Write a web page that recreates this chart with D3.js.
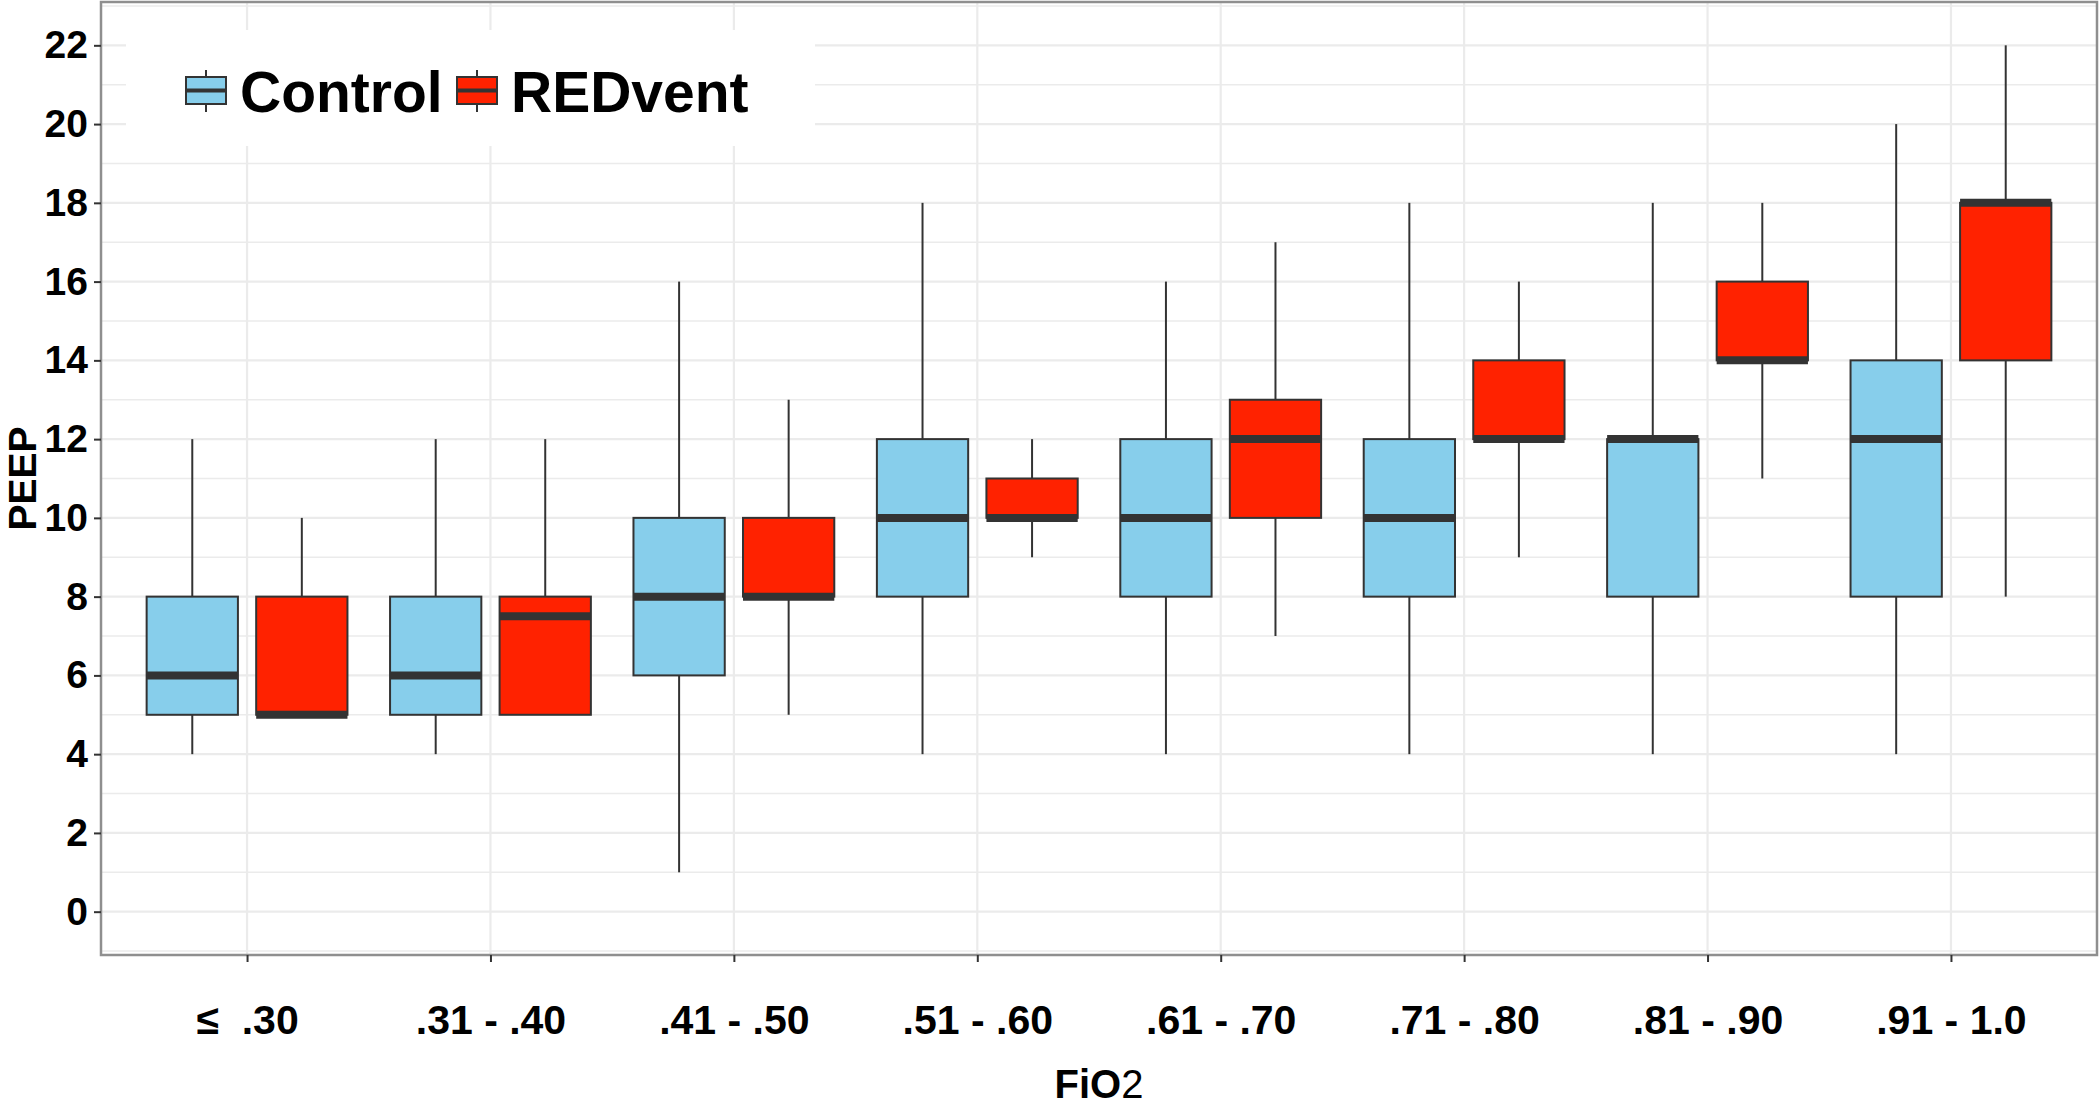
<!DOCTYPE html>
<html>
<head>
<meta charset="utf-8">
<script src="https://cdn.jsdelivr.net/npm/d3@7"></script>
<style>
  html, body { margin: 0; padding: 0; background: #fff; }
  svg { display: block; }
  text { font-family: "Liberation Sans", Arial, sans-serif; }
</style>
</head>
<body>
<svg id="chart" width="2100" height="1108"></svg>
<script>
// ---- data ----
const categories = ["\u2264  .30", ".31 - .40", ".41 - .50", ".51 - .60", ".61 - .70", ".71 - .80", ".81 - .90", ".91 - 1.0"];
const groups = ["Control", "REDvent"];
const groupColors = ["#87CEEB", "#FF2200"];
const yTicks = [0, 2, 4, 6, 8, 10, 12, 14, 16, 18, 20, 22];

const controlLow  = [4, 4, 1, 4, 4, 4, 4, 4];
const controlQ1   = [5, 5, 6, 8, 8, 8, 8, 8];
const controlMed  = [6, 6, 8, 10, 10, 10, 12, 12];
const controlQ3   = [8, 8, 10, 12, 12, 12, 12, 14];
const controlHigh = [12, 12, 16, 18, 16, 18, 18, 20];

const redLow  = [5, 5, 5, 9, 7, 9, 11, 8];
const redQ1   = [5, 5, 8, 10, 10, 12, 14, 14];
const redMed  = [5, 7.5, 8, 10, 12, 12, 14, 18];
const redQ3   = [8, 8, 10, 11, 13, 14, 16, 18];
const redHigh = [10, 12, 13, 12, 17, 16, 18, 22];

// ---- build ----
const series = [
  {name: groups[0], color: groupColors[0], low: controlLow, q1: controlQ1, med: controlMed, q3: controlQ3, high: controlHigh, off: -1},
  {name: groups[1], color: groupColors[1], low: redLow, q1: redQ1, med: redMed, q3: redQ3, high: redHigh, off: 1}
];

const svg = d3.select("#chart");
const P = {left: 101, right: 2097, top: 2, bottom: 955};

const x = d3.scaleLinear().domain([0.4, categories.length + 0.6]).range([P.left, P.right]);
const y = d3.scaleLinear().domain([-1.1, 23.1]).range([P.bottom, P.top]);

const dodge = 0.225, boxW = 0.375;
const unit = x(1) - x(0);

// background
svg.append("rect").attr("x", P.left).attr("y", P.top).attr("width", P.right - P.left).attr("height", P.bottom - P.top).attr("fill", "#fff");

// grid
const grid = svg.append("g");
const minor = d3.range(-1, 24, 2);
grid.selectAll(".minor").data(minor).join("line")
  .attr("x1", P.left).attr("x2", P.right)
  .attr("y1", d => y(d)).attr("y2", d => y(d))
  .attr("stroke", "#EBEBEB").attr("stroke-width", 1.6);
grid.selectAll(".major").data(yTicks).join("line")
  .attr("x1", P.left).attr("x2", P.right)
  .attr("y1", d => y(d)).attr("y2", d => y(d))
  .attr("stroke", "#EBEBEB").attr("stroke-width", 2.2);
grid.selectAll(".vmajor").data(categories).join("line")
  .attr("x1", (d, i) => x(i + 1)).attr("x2", (d, i) => x(i + 1))
  .attr("y1", P.top).attr("y2", P.bottom)
  .attr("stroke", "#EBEBEB").attr("stroke-width", 2.2);

// boxes
const stroke = "#333333";
series.forEach(s => {
  const g = svg.append("g");
  const idx = d3.range(categories.length);
  const cx = i => x(i + 1 + s.off * dodge);
  g.selectAll(".wu").data(idx).join("line")
    .attr("x1", cx).attr("x2", cx)
    .attr("y1", i => y(s.q3[i])).attr("y2", i => y(s.high[i]))
    .attr("stroke", stroke).attr("stroke-width", 2);
  g.selectAll(".wl").data(idx).join("line")
    .attr("x1", cx).attr("x2", cx)
    .attr("y1", i => y(s.q1[i])).attr("y2", i => y(s.low[i]))
    .attr("stroke", stroke).attr("stroke-width", 2);
  g.selectAll(".box").data(idx).join("rect")
    .attr("x", i => cx(i) - boxW / 2 * unit)
    .attr("width", boxW * unit)
    .attr("y", i => y(s.q3[i]))
    .attr("height", i => Math.max(0, y(s.q1[i]) - y(s.q3[i])))
    .attr("fill", s.color).attr("stroke", stroke).attr("stroke-width", 2);
  g.selectAll(".med").data(idx).join("line")
    .attr("x1", i => cx(i) - boxW / 2 * unit).attr("x2", i => cx(i) + boxW / 2 * unit)
    .attr("y1", i => y(s.med[i])).attr("y2", i => y(s.med[i]))
    .attr("stroke", stroke).attr("stroke-width", 8);
});

// panel border
svg.append("rect").attr("x", P.left).attr("y", P.top).attr("width", P.right - P.left).attr("height", P.bottom - P.top)
  .attr("fill", "none").attr("stroke", "#8f8f8f").attr("stroke-width", 2.5);

// axes
const yAxis = svg.append("g").attr("transform", `translate(${P.left},0)`)
  .call(d3.axisLeft(y).tickValues(yTicks).tickSize(7).tickPadding(6));
yAxis.select(".domain").remove();
yAxis.selectAll(".tick line").attr("stroke", "#333").attr("stroke-width", 2);
yAxis.selectAll(".tick text").attr("fill", "#000").attr("font-size", 39).attr("font-weight", "bold")
  .attr("font-family", "Liberation Sans, Arial, sans-serif");

const xAxis = svg.append("g").attr("transform", `translate(0,${P.bottom})`)
  .call(d3.axisBottom(x).tickValues(d3.range(1, categories.length + 1)).tickFormat(d => categories[d - 1]).tickSize(7).tickPadding(43));
xAxis.select(".domain").remove();
xAxis.selectAll(".tick line").attr("stroke", "#333").attr("stroke-width", 2);
xAxis.selectAll(".tick text").attr("fill", "#000").attr("font-size", 41).attr("font-weight", "bold")
  .attr("font-family", "Liberation Sans, Arial, sans-serif").style("white-space", "pre");

// axis titles
const xt = svg.append("text").attr("x", (P.left + P.right) / 2).attr("y", 1098)
  .attr("text-anchor", "middle").attr("font-size", 40).attr("fill", "#000");
xt.append("tspan").attr("font-weight", "bold").text("FiO");
xt.append("tspan").attr("font-weight", "normal").text("2");

svg.append("text").attr("transform", `translate(36,${(P.top + P.bottom) / 2}) rotate(-90)`)
  .attr("text-anchor", "middle").attr("font-size", 39).attr("font-weight", "bold").attr("fill", "#000").text("PEEP");

// legend
const lg = svg.append("g");
lg.append("rect").attr("x", 126).attr("y", 30).attr("width", 689).attr("height", 116).attr("fill", "#fff");
const keyX = [186, 457];
const textX = [240, 511];
series.forEach((s, k) => {
  const kx = keyX[k], kw = 40, kc = kx + kw / 2;
  lg.append("line").attr("x1", kc).attr("x2", kc).attr("y1", 70).attr("y2", 112).attr("stroke", stroke).attr("stroke-width", 2);
  lg.append("rect").attr("x", kx).attr("y", 77).attr("width", kw).attr("height", 27)
    .attr("fill", s.color).attr("stroke", stroke).attr("stroke-width", 2);
  lg.append("line").attr("x1", kx).attr("x2", kx + kw).attr("y1", 90.5).attr("y2", 90.5).attr("stroke", stroke).attr("stroke-width", 4);
  lg.append("text").attr("x", textX[k]).attr("y", 112).attr("font-size", 57).attr("font-weight", "bold").attr("fill", "#000").text(s.name);
});
</script>
</body>
</html>
